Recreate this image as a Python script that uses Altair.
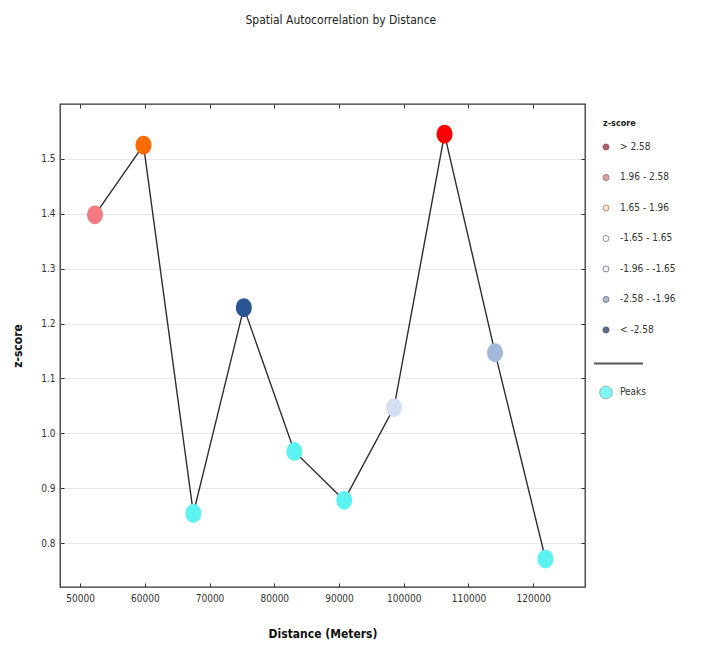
import altair as alt
import pandas as pd

FONT = "DejaVu Sans Condensed, DejaVu Sans, sans-serif"

# ---- data ----
distance = [52300, 59800, 67500, 75300, 83100, 90800, 98500, 106300, 114100, 121900]
zscore = [1.398, 1.525, 0.854, 1.229, 0.967, 0.878, 1.047, 1.545, 1.147, 0.771]
point_colors = ["#F27A80", "#FF6A00", "#5EF3F3", "#2A5595", "#5EF3F3",
                "#5EF3F3", "#D3DFF1", "#FF0000", "#A3B9DA", "#5EF3F3"]

x_ticks = [50000, 60000, 70000, 80000, 90000, 100000, 110000, 120000]
y_ticks = [0.8, 0.9, 1.0, 1.1, 1.2, 1.3, 1.4, 1.5]

legend_labels = ["> 2.58", "1.96 - 2.58", "1.65 - 1.96", "-1.65 - 1.65",
                 "-1.96 - -1.65", "-2.58 - -1.96", "< -2.58"]
legend_fill = ["#A8606C", "#D8A8A8", "#F3E4D6", "#FFFFFF", "#F2F2F4", "#B0B8C8", "#5E6E88"]
legend_stroke = ["#A05866", "#B07474", "#C09474", "#8E8E8E", "#8A8A94", "#74849A", "#4E5E78"]
legend_title = "z-score"
peaks_label = "Peaks"

ELLIPSE = "M -0.85 0 A 0.85 1 0 1 1 0.85 0 A 0.85 1 0 1 1 -0.85 0 Z"

# ---- main plot ----
df = pd.DataFrame({"distance": distance, "zscore": zscore, "color": point_colors})

xs = alt.Scale(domain=[46900, 128000], nice=False, zero=False)
ys = alt.Scale(domain=[0.72, 1.6], nice=False, zero=False)

common = dict(tickSize=4, offset=-4, tickColor="#333333", tickWidth=1, domain=False,
              labelFont=FONT, labelFontSize=10, labelColor="#333333",
              titleFont=FONT, titleFontWeight="bold", titleFontSize=12, titleColor="#111111")

x_bottom = alt.Axis(values=x_ticks, format="d", grid=False, title="Distance (Meters)",
                    labelPadding=6, titlePadding=25, **common)
y_left = alt.Axis(values=y_ticks, format=".1f", grid=True, gridColor="#E8E8E8", gridWidth=1,
                  title="z-score", labelPadding=5, titlePadding=16, **common)
x_top = alt.Axis(orient="top", values=x_ticks, labels=False, grid=False, title=None,
                 tickSize=4, offset=-4, domain=False, tickColor="#333333")
y_right = alt.Axis(orient="right", values=y_ticks, labels=False, grid=False, title=None,
                   tickSize=4, offset=-4, domain=False, tickColor="#333333")

line = alt.Chart(df).mark_line(color="#2E2E2E", strokeWidth=1.4).encode(
    x=alt.X("distance:Q", scale=xs, axis=x_bottom),
    y=alt.Y("zscore:Q", scale=ys, axis=y_left),
)
pts = alt.Chart(df).mark_point(shape=ELLIPSE, filled=True, size=350, opacity=1).encode(
    x=alt.X("distance:Q", scale=xs, axis=None),
    y=alt.Y("zscore:Q", scale=ys, axis=None),
    color=alt.Color("color:N", scale=None),
)
frame = alt.Chart(df).mark_circle(opacity=0).encode(
    x=alt.X("distance:Q", scale=xs, axis=x_top),
    y=alt.Y("zscore:Q", scale=ys, axis=y_right),
)

main = alt.layer(line, pts, frame).resolve_axis(x="independent", y="independent").properties(
    width=525, height=483
)

# ---- legend panel ----
leg_df = pd.DataFrame({
    "label": legend_labels,
    "fill": legend_fill,
    "stroke": legend_stroke,
    "row": list(range(len(legend_labels))),
})
title_df = pd.DataFrame({"label": [legend_title], "row": [-0.8]})
sep_df = pd.DataFrame({"row": [7.1]})
peak_df = pd.DataFrame({"label": [peaks_label], "row": [8.05]})

ly = alt.Scale(domain=[-1.41, 14.43], nice=False, zero=False, reverse=True)

sym = alt.Chart(leg_df).mark_point(shape="circle", filled=True, size=36, strokeWidth=1, opacity=1).encode(
    x=alt.value(12),
    y=alt.Y("row:Q", scale=ly, axis=None),
    fill=alt.Fill("fill:N", scale=None),
    stroke=alt.Stroke("stroke:N", scale=None),
)
txt = alt.Chart(leg_df).mark_text(align="left", baseline="middle", font=FONT, fontSize=10,
                                  color="#333333").encode(
    x=alt.value(26),
    y=alt.Y("row:Q", scale=ly, axis=None),
    text="label:N",
)
ttl = alt.Chart(title_df).mark_text(align="left", baseline="middle", font=FONT, fontSize=9,
                                    fontWeight="bold", color="#222222").encode(
    x=alt.value(9),
    y=alt.Y("row:Q", scale=ly, axis=None),
    text="label:N",
)
sep = alt.Chart(sep_df).mark_rule(color="#555555", strokeWidth=2).encode(
    x=alt.value(0), x2=alt.value(49),
    y=alt.Y("row:Q", scale=ly, axis=None),
)
peak_sym = alt.Chart(peak_df).mark_point(shape="circle", filled=True, size=160, strokeWidth=1,
                                         fill="#7FF7F7", stroke="#99B4B4", opacity=1).encode(
    x=alt.value(12),
    y=alt.Y("row:Q", scale=ly, axis=None),
)
peak_txt = alt.Chart(peak_df).mark_text(align="left", baseline="middle", font=FONT, fontSize=10,
                                        color="#333333").encode(
    x=alt.value(26),
    y=alt.Y("row:Q", scale=ly, axis=None),
    text="label:N",
)

legend = alt.layer(sym, txt, ttl, sep, peak_sym, peak_txt).properties(
    width=110, height=483, view=alt.ViewBackground(stroke="transparent")
)

chart = alt.hconcat(main, legend, spacing=5).properties(
    title=alt.TitleParams("Spatial Autocorrelation by Distance", font=FONT, fontSize=12,
                          fontWeight="normal", color="#222222", anchor="middle", dx=-17, offset=76),
    padding={"left": 3, "top": 5, "right": 5, "bottom": 0},
).configure_view(stroke="#333333", strokeWidth=1.3)

chart.save("out.html", embed_options={"renderer": "svg", "actions": False})
